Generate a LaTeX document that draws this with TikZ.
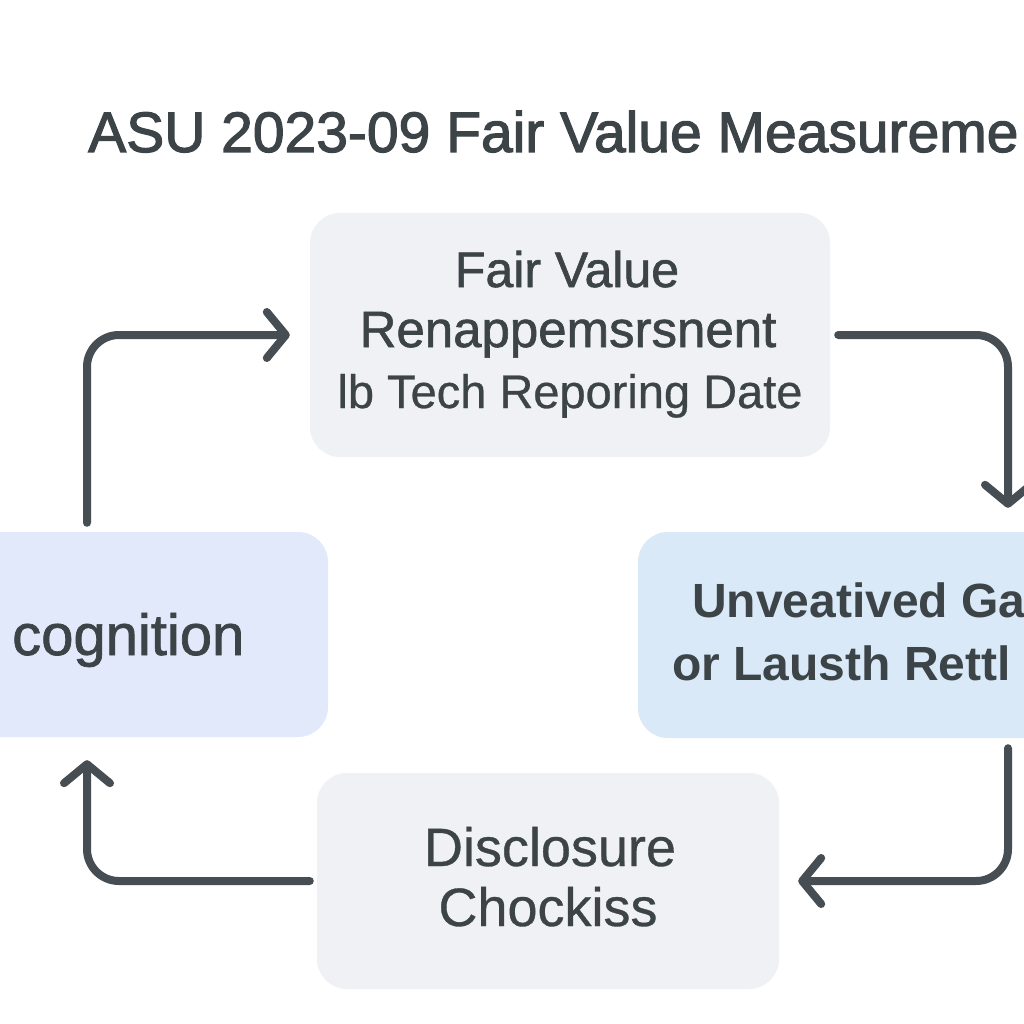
\documentclass[tikz,border=0pt]{standalone}
\usepackage{fontspec}
\setmainfont{Liberation Sans}
\newfontfamily\medfont[FakeBold=2]{Liberation Sans}
\newfontfamily\semfont[FakeBold=1.2]{Liberation Sans}
\newfontfamily\litefont[FakeBold=0.6]{Liberation Sans}
\usetikzlibrary{arrows.meta}
\definecolor{txt}{HTML}{3C4448}
\definecolor{arr}{HTML}{464D53}
\definecolor{grayfill}{HTML}{F0F1F4}
\definecolor{bluefill}{HTML}{DAE9F8}
\definecolor{lavfill}{HTML}{E2E9FB}
\begin{document}
\begin{tikzpicture}[x=1pt,y=-1pt,
  box/.style={rectangle, rounded corners=30pt, draw=none, inner sep=0pt, text=txt, align=center},
  lbl/.style={inner sep=0pt, text=txt, anchor=base west},
  conn/.style={draw=arr, line width=8pt, rounded corners=32pt, line cap=round, line join=round,
    -{Straight Barb[length=19pt,width=46pt,line cap=round,line join=round]}}]
\useasboundingbox (0,0) rectangle (1024,1024);
\fill[white] (0,0) rectangle (1024,1024);
% title
\node[lbl, font=\medfont\fontsize{57}{60}\selectfont] (title) at (88,152) {ASU 2023-09 Fair Value Measureme};
% boxes
\node[box, fill=grayfill, minimum width=520pt, minimum height=244pt] (top) at (570,335) {};
\node[box, fill=bluefill, minimum width=740pt, minimum height=206pt] (rgt) at (1008,635) {};
\node[box, fill=lavfill, minimum width=482pt, minimum height=205pt] (lft) at (87,634.5) {};
\node[box, fill=grayfill, minimum width=462pt, minimum height=216pt] (bot) at (548,881) {};
% texts
\node[lbl, anchor=base, font=\semfont\fontsize{50}{60}\selectfont] (top1) at (567,287) {Fair Value};
\node[lbl, anchor=base, font=\semfont\fontsize{51}{60}\selectfont] (top2) at (568,347) {Renappemsrsnent};
\node[lbl, anchor=base, font=\litefont\fontsize{47}{60}\selectfont] (top3) at (570,408) {lb Tech Reporing Date};
\node[lbl, anchor=base, font=\litefont\fontsize{54}{60}\selectfont] (bot1) at (550,866) {Disclosure};
\node[lbl, anchor=base, font=\litefont\fontsize{54}{60}\selectfont] (bot2) at (548,926) {Chockiss};
\node[lbl, font=\bfseries\fontsize{48}{50}\selectfont] (rgt1) at (692,617) {Unveatived Ga};
\node[lbl, font=\bfseries\fontsize{48}{50}\selectfont] (rgt2) at (672,680) {or Lausth Rettl};
\node[lbl, font=\semfont\fontsize{58}{60}\selectfont] (lft1) at (12,655) {cognition};
% connectors
\draw[conn, shorten <=9pt, shorten >=20pt] (lft.north) |- (top.west);
\draw[conn, shorten <=8pt, shorten >=24pt] (top.east) -| (rgt.north);
\draw[conn, shorten <=10pt, shorten >=19pt] (rgt.south) |- (bot.east);
\draw[conn, shorten <=7pt, shorten >=23pt] (bot.west) -| (lft.south);
\end{tikzpicture}
\end{document}
